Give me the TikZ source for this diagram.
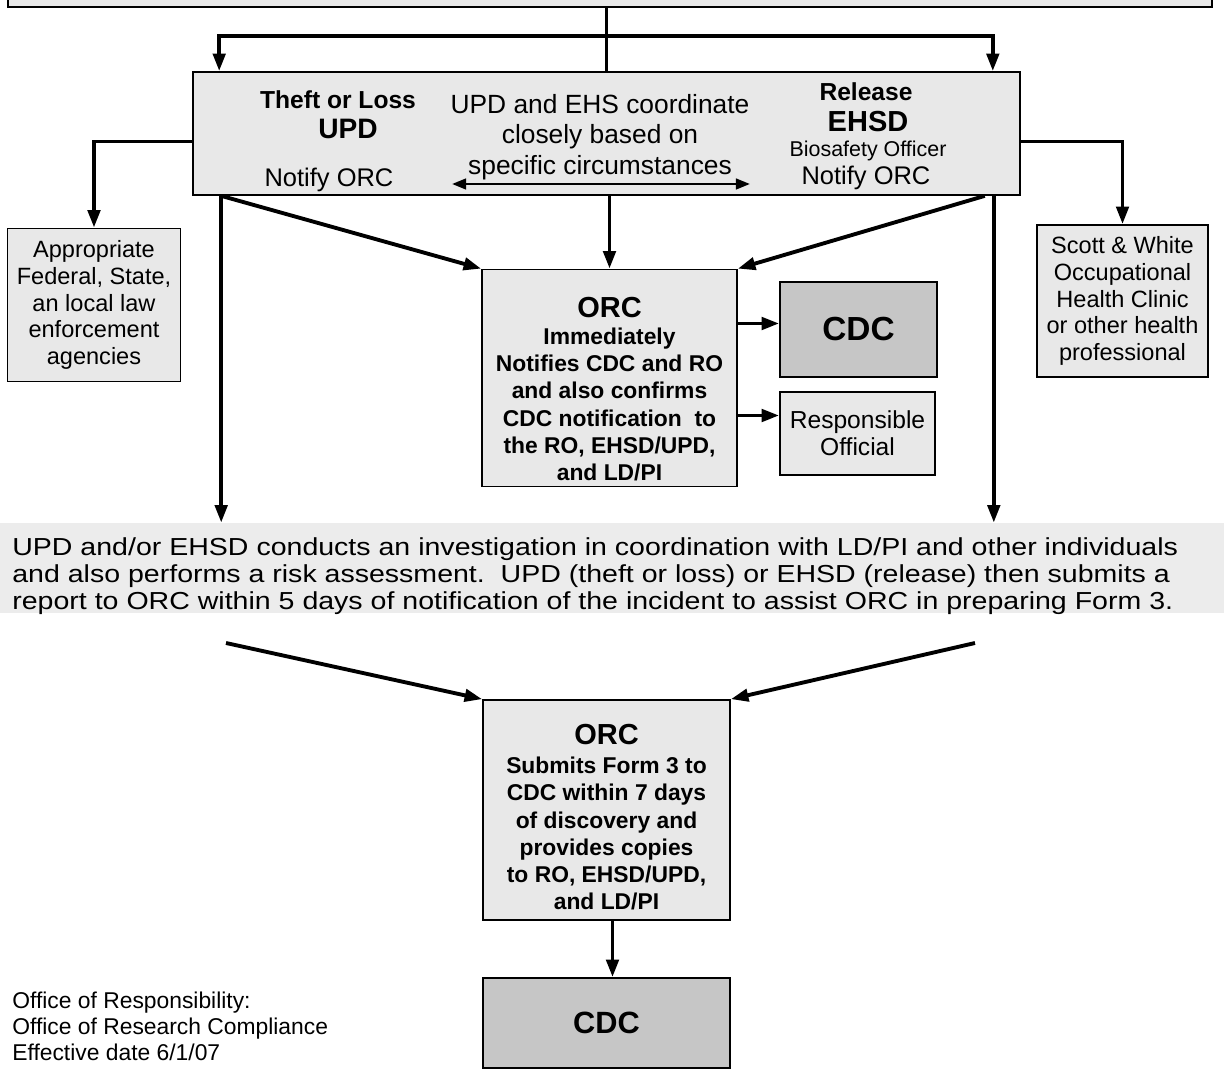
\documentclass[tikz,border=0pt]{standalone}
\usepackage{fontspec}
\setmainfont{Liberation Sans}
\newfontfamily\widefont[FakeStretch=1.16]{Liberation Sans}
\usetikzlibrary{arrows.meta,calc}

\tikzset{
  box/.style={draw, line width=1pt, fill=gray!18, align=center, inner sep=2pt},
  darkbox/.style={box, fill=gray!45, font=\bfseries\fontsize{19}{21}\selectfont},
  sidebox/.style={box, font=\fontsize{13.4}{15.3}\selectfont},
  orcbox/.style={box, font=\bfseries\fontsize{13}{15.5}\selectfont},
  flow/.style={line width=2.2pt, -{Triangle[length=10pt,width=7pt]}},
}

\begin{document}
\begin{tikzpicture}[x=0.02cm,y=-0.02cm, font=\fontsize{14.5}{17}\selectfont]
  \useasboundingbox (0,0) rectangle (1224,1077);
  % box above, cut by the page
  \node[box, minimum width=24.08cm, minimum height=1.2cm, anchor=south] (top) at (610,8) {};

  % theft / release box
  \node[box, minimum width=16.54cm, minimum height=2.46cm] (main) at (606.5,133.5) {};
  \node[font=\bfseries\fontsize{14}{16}\selectfont] (theft) at (338,100) {Theft or Loss};
  \node[font=\bfseries\fontsize{16}{18}\selectfont] (upd) at (348,129) {UPD};
  \node (notl) at (329,180) {Notify ORC};
  \node[align=center, font=\fontsize{15}{17.4}\selectfont] (coord) at (600,137)
    {UPD and EHS coordinate\\closely based on\\specific circumstances};
  \node[font=\bfseries\fontsize{14}{16}\selectfont] (release) at (866,92) {Release};
  \node[font=\bfseries\fontsize{16.5}{18}\selectfont] (ehsd) at (868,122) {EHSD};
  \node[font=\fontsize{12.2}{14}\selectfont] (bio) at (868,151) {Biosafety Officer};
  \node (notr) at (866,178) {Notify ORC};
  \coordinate (cl) at (452,184);
  \coordinate (cr) at (750,184);
  \draw[line width=1.5pt, {Triangle[length=8pt,width=6pt]}-{Triangle[length=8pt,width=6pt]}] (cl) -- (cr);

  % from the box above
  \coordinate (split) at (606.5,36);
  \draw[line width=1.6pt] (top.south -| main.north) -- (main.north);
  \draw[flow] (split) -| ($(main.north west)+(27,0)$);
  \draw[flow] (split) -| ($(main.north east)+(-28,0)$);

  % side boxes
  \node[sidebox, minimum width=3.46cm, minimum height=3.06cm] (law) at (94,305)
    {Appropriate\\Federal, State,\\an local law\\enforcement\\agencies};
  \node[sidebox, minimum width=3.42cm, minimum height=3.04cm] (clinic) at (1122.5,301)
    {Scott \& White\\Occupational\\Health Clinic\\or other health\\professional};
  \draw[flow] ($(main.west)+(0,8)$) -| (law.north);
  \draw[flow] ($(main.east)+(0,8)$) -| (clinic.north);

  % ORC notifies
  \node[orcbox, minimum width=5.1cm, minimum height=4.34cm] (orc) at (609.5,378)
    {\rule{0pt}{24pt}{\fontsize{16.5}{18}\selectfont ORC}\\Immediately\\Notifies CDC and RO\\and also confirms\\CDC notification~~to\\the RO, EHSD/UPD,\\and LD/PI};
  \node[darkbox, minimum width=3.14cm, minimum height=1.9cm] (cdc) at (858.5,329.5) {CDC};
  \node[sidebox, font=\fontsize{14}{15.5}\selectfont, minimum width=3.1cm, minimum height=1.66cm] (ro) at (857.5,433.5)
    {Responsible\\Official};
  \coordinate (dl) at ($(main.south west)+(29,0)$);
  \coordinate (dr) at ($(main.south east)+(-27,0)$);
  \draw[flow] (dl) -- (orc.north west);
  \draw[flow] (main.south -| orc.north) -- (orc.north);
  \draw[flow] ($(dr)+(-9,0)$) -- (orc.north east);
  \draw[flow] ($(cdc.west -| orc.east)+(0,-6)$) -- ($(cdc.west)+(0,-6)$);
  \draw[flow] ($(ro.west -| orc.east)+(0,-18)$) -- ($(ro.west)+(0,-18)$);

  % investigation
  \node[fill=gray!15, minimum width=24.48cm, minimum height=1.8cm] (band) at (612,568) {};
  \node[anchor=west, align=left, inner sep=0pt, font=\widefont\fontsize{14}{15.4}\selectfont] (inquiry) at (12,576)
    {UPD and/or EHSD conducts an investigation in coordination with LD/PI and other individuals\\
     and also performs a risk assessment.~~UPD (theft or loss) or EHSD (release) then submits a\\
     report to ORC within 5 days of notification of the incident to assist ORC in preparing Form 3.};
  \draw[flow] (dl) -- (dl |- band.north);
  \draw[flow] (dr) -- (dr |- band.north);

  % ORC submits Form 3
  \node[orcbox, minimum width=4.94cm, minimum height=4.4cm] (orcb) at (606.5,810)
    {\rule{0pt}{20pt}{\fontsize{16.5}{18}\selectfont ORC}\\[1pt]Submits Form 3 to\\CDC within 7 days\\of discovery and\\provides copies\\to RO, EHSD/UPD,\\and LD/PI};
  \node[darkbox, font=\bfseries\fontsize{17.5}{20}\selectfont, minimum width=4.94cm, minimum height=1.8cm] (cdcb) at (606.5,1023) {CDC};
  \coordinate (fl) at (226,643);
  \coordinate (fr) at (975,643);
  \draw[flow] (fl) -- (orcb.north west);
  \draw[flow] (fr) -- (orcb.north east);
  \draw[flow] ($(orcb.south)+(6,0)$) -- ($(cdcb.north)+(6,0)$);

  % footer
  \node[anchor=north west, align=left, inner sep=0pt, font=\fontsize{13}{14.8}\selectfont] (office) at (12,992)
    {Office of Responsibility:\\Office of Research Compliance\\Effective date 6/1/07};
\end{tikzpicture}
\end{document}
